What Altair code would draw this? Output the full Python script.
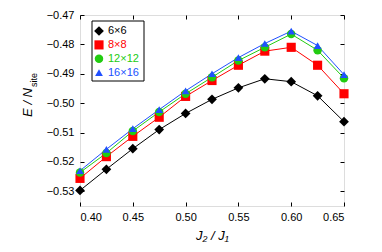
import altair as alt
import pandas as pd

ratio = [0.40, 0.425, 0.45, 0.475, 0.50, 0.525, 0.55, 0.575, 0.60, 0.625, 0.65]
e6 = [-0.5297, -0.5225, -0.5155, -0.5090, -0.5035, -0.4987, -0.4948, -0.4917, -0.4927, -0.4975, -0.5063]
e8 = [-0.5256, -0.5182, -0.5113, -0.5048, -0.4977, -0.4923, -0.4871, -0.4823, -0.4810, -0.4871, -0.4968]
e12 = [-0.5236, -0.5170, -0.5095, -0.5030, -0.4968, -0.4912, -0.4855, -0.4810, -0.4765, -0.4820, -0.4915]
e16 = [-0.5230, -0.5157, -0.5087, -0.5022, -0.4958, -0.4900, -0.4845, -0.4797, -0.4755, -0.4804, -0.4903]
labels = ["6×6", "8×8", "12×12", "16×16"]
colors = ["#000000", "#ff0000", "#22cc11", "#2050ff"]
shapes = ["diamond", "square", "circle", "triangle-up"]
xticks = [0.40, 0.45, 0.50, 0.55, 0.60, 0.65]
yticks = [-0.53, -0.52, -0.51, -0.50, -0.49, -0.48, -0.47]

rows = []
for i, (lab, vals) in enumerate(zip(labels, [e6, e8, e12, e16])):
    for r, v in zip(ratio, vals):
        rows.append({"J": r, "E": v, "L": lab, "o": i})
df = pd.DataFrame(rows)
leg_df = pd.DataFrame({"L": labels, "i": list(range(len(labels)))})

font = "Liberation Sans"
xs = alt.Scale(domain=[0.40, 0.65], nice=False, zero=False)
ys = alt.Scale(domain=[-0.535, -0.47], nice=False, zero=False)
cs = alt.Scale(domain=labels, range=colors)
ss = alt.Scale(domain=labels, range=shapes)
szs = alt.Scale(domain=labels, range=[95, 60, 65, 95])

base = alt.Chart(df)

lines = base.mark_line(strokeWidth=1).encode(
    x=alt.X("J:Q", scale=xs, axis=alt.Axis(
        values=xticks, format=".2f", ticks=False, tickSize=0, domain=False, grid=False,
        labelPadding=5, labelFont=font, labelFontSize=11, labelColor="black",
        title="J₂ / J₁", titleFont=font, titleFontSize=13, titleFontStyle="italic",
        titleFontWeight="normal", titleColor="black", titlePadding=7)),
    y=alt.Y("E:Q", scale=ys, axis=alt.Axis(
        values=yticks, format=".2f", ticks=False, tickSize=0, domain=False, grid=False,
        labelPadding=6, labelFont=font, labelFontSize=11, labelColor="black", title=None)),
    color=alt.Color("L:N", scale=cs, legend=None),
    detail="L:N",
)

points = base.mark_point(filled=True, opacity=1).encode(
    x=alt.X("J:Q", scale=xs, axis=None),
    y=alt.Y("E:Q", scale=ys, axis=None),
    color=alt.Color("L:N", scale=cs, legend=None),
    shape=alt.Shape("L:N", scale=ss, legend=None),
    size=alt.Size("L:N", scale=szs, legend=None),
    order=alt.Order("o:Q"),
)


def tick_axis(orient, vals):
    return alt.Axis(orient=orient, values=vals, labels=False, ticks=True, tickSize=4, offset=-4,
                    domain=False, grid=False, title=None, tickColor="black", tickWidth=1)


ticks_bl = base.mark_point(opacity=0).encode(
    x=alt.X("J:Q", scale=xs, axis=tick_axis("bottom", xticks)),
    y=alt.Y("E:Q", scale=ys, axis=tick_axis("left", yticks)),
)
ticks_tr = base.mark_point(opacity=0).encode(
    x=alt.X("J:Q", scale=xs, axis=tick_axis("top", xticks)),
    y=alt.Y("E:Q", scale=ys, axis=tick_axis("right", yticks)),
)

# legend (box, symbols, coloured labels)
leg_box = alt.Chart(pd.DataFrame({"a": [0]})).mark_rect(
    fill="white", stroke="black", strokeWidth=1
).encode(x=alt.value(12), x2=alt.value(64), y=alt.value(6), y2=alt.value(66))

leg_base = alt.Chart(leg_df).transform_calculate(py="16 + datum.i * 13.9")
leg_sym = leg_base.mark_point(filled=True, opacity=1).encode(
    x=alt.value(19),
    y=alt.Y("py:Q", scale=None, axis=None),
    color=alt.Color("L:N", scale=cs, legend=None),
    shape=alt.Shape("L:N", scale=ss, legend=None),
    size=alt.Size("L:N", scale=szs, legend=None),
)
leg_txt = leg_base.mark_text(align="left", baseline="middle", font=font, fontSize=11).encode(
    x=alt.value(28),
    y=alt.Y("py:Q", scale=None, axis=None),
    text="L:N",
    color=alt.Color("L:N", scale=cs, legend=None),
)

ytitle_main = alt.Chart(pd.DataFrame({"t": ["E / N"]})).mark_text(
    angle=270, font=font, fontSize=13, fontStyle="italic", align="right", baseline="middle", color="black"
).encode(text="t:N", x=alt.value(-52), y=alt.value(73))
ytitle_sub = alt.Chart(pd.DataFrame({"t": ["site"]})).mark_text(
    angle=270, font=font, fontSize=9, align="left", baseline="middle", color="black"
).encode(text="t:N", x=alt.value(-46), y=alt.value(72))

chart = alt.layer(
    lines, points, ticks_bl, ticks_tr, leg_box, leg_sym, leg_txt, ytitle_main, ytitle_sub
).resolve_axis(
    x="independent", y="independent"
).properties(
    width=264, height=191,
    autosize=alt.AutoSizeParams(type="none"),
    padding={"left": 72, "top": 7, "right": 30, "bottom": 40},
).configure_view(stroke="black", strokeWidth=1).configure(background="white")

chart.save("out.html", embed_options={"renderer": "svg", "actions": False})
